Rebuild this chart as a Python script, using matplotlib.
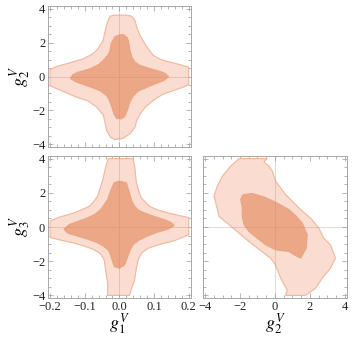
import numpy as np
import matplotlib
matplotlib.use('Agg')
import matplotlib.pyplot as plt
from matplotlib.ticker import MultipleLocator

plt.rcParams['font.family'] = ['Liberation Serif', 'DejaVu Serif']
plt.rcParams['mathtext.fontset'] = 'stix'

# contour outlines: (x, y) pairs
# g1 - g2 panel
g1g2_outer_x = [-0.027, -0.015, 0.02, 0.036, 0.045, 0.05, 0.06, 0.08, 0.098, 0.12, 0.148, 0.175, 0.2,
                0.2, 0.185, 0.157, 0.125, 0.098, 0.075, 0.06, 0.05, 0.045, 0.031, 0.01, -0.013, -0.025,
                -0.037, -0.046, -0.066, -0.09, -0.124, -0.16, -0.2, -0.2, -0.18, -0.153, -0.105, -0.08,
                -0.066, -0.047, -0.039, -0.033]
g1g2_outer_y = [3.55, 3.62, 3.62, 3.55, 3.3, 2.9, 2.4, 1.72, 1.24, 1.0, 0.84, 0.7, 0.55,
                -0.47, -0.62, -0.82, -1.05, -1.41, -1.8, -2.2, -2.6, -2.98, -3.37, -3.65, -3.72, -3.6,
                -3.18, -2.29, -1.8, -1.45, -1.22, -0.9, -0.55, 0.42, 0.6, 0.75, 1.04, 1.3,
                1.53, 2.12, 2.9, 3.3]
g1g2_inner_x = [0.0, 0.012, 0.022, 0.026, 0.03, 0.036, 0.045, 0.06, 0.085, 0.109, 0.13, 0.142, 0.128,
                0.105, 0.08, 0.055, 0.041, 0.03, 0.026, 0.016, 0.005, -0.008, -0.015, -0.022, -0.03,
                -0.037, -0.055, -0.076, -0.1, -0.124, -0.141, -0.135, -0.12, -0.085, -0.06, -0.047,
                -0.032, -0.027, -0.024, -0.013]
g1g2_inner_y = [2.45, 2.47, 2.3, 2.12, 1.6, 1.13, 0.85, 0.65, 0.48, 0.35, 0.2, 0.0, -0.24,
                -0.42, -0.63, -0.85, -1.12, -1.5, -1.8, -2.35, -2.5, -2.47, -2.25, -1.8, -1.35,
                -1.12, -0.85, -0.67, -0.5, -0.33, -0.12, 0.1, 0.25, 0.45, 0.7, 0.94,
                1.3, 1.53, 1.93, 2.35]

# g1 - g3 panel
g1g3_outer_x = [-0.032, 0.039, 0.044, 0.049, 0.056, 0.063, 0.087, 0.11, 0.141, 0.2, 0.2, 0.16, 0.12,
                0.083, 0.065, 0.054, 0.048, 0.044, 0.035, 0.029, -0.034, -0.034, -0.04, -0.044,
                -0.055, -0.073, -0.1, -0.131, -0.2, -0.2, -0.17, -0.131, -0.087, -0.075, -0.063,
                -0.055, -0.048, -0.039]
g1g3_outer_y = [4.0, 4.0, 3.56, 2.59, 2.1, 1.7, 1.21, 1.0, 0.82, 0.55, -0.45, -0.79, -1.0,
                -1.24, -1.5, -1.92, -2.5, -3.1, -3.6, -4.0, -4.0, -3.29, -2.5, -1.92,
                -1.55, -1.33, -1.12, -0.94, -0.62, 0.36, 0.6, 0.82, 1.21, 1.45, 1.8,
                2.3, 2.78, 3.56]
g1g3_inner_x = [0.0, 0.02, 0.029, 0.036, 0.044, 0.055, 0.073, 0.1, 0.131, 0.15, 0.158, 0.141, 0.11,
                0.083, 0.055, 0.039, 0.03, 0.024, 0.015, 0.0, -0.015, -0.024, -0.03, -0.044, -0.065,
                -0.092, -0.15, -0.16, -0.145, -0.12, -0.092, -0.07, -0.054, -0.034, -0.024, -0.015]
g1g3_inner_y = [2.68, 2.59, 2.0, 1.5, 1.21, 0.98, 0.82, 0.62, 0.43, 0.25, 0.08, -0.12, -0.3,
                -0.51, -0.78, -1.04, -1.4, -1.73, -2.22, -2.41, -2.3, -1.73, -1.4, -1.14, -0.9,
                -0.71, -0.35, -0.12, 0.14, 0.33, 0.53, 0.75, 1.02, 1.6, 2.19, 2.59]

# g2 - g3 panel
g2g3_outer_x = [-2.06, -0.44, -0.63, -0.34, -0.15, 0.04, 0.61, 1.37, 2.13, 2.51, 2.8, 3.18, 3.47,
                3.18, 2.7, 2.32, 1.75, 0.61, 0.7, 0.33, 0.04, -0.25, -1.49, -2.63, -3.2, -3.39,
                -3.49, -3.3, -3.01, -2.53]
g2g3_outer_y = [4.0, 4.0, 3.8, 3.56, 3.27, 2.68, 1.9, 1.12, 0.43, -0.06, -0.65, -1.04, -1.82,
                -2.41, -3.0, -3.59, -4.0, -4.0, -3.69, -3.0, -2.22, -1.82, -0.85, 0.14, 0.62, 1.41,
                1.8, 2.39, 2.98, 3.56]
g2g3_inner_x = [-1.87, -1.77, -1.3, -0.6, 0.04, 0.8, 1.2, 1.56, 1.85, 1.79, 1.47, 1.28, 0.8, 0.04,
                -0.53, -1.49, -1.77, -1.87, -1.87, -1.96]
g2g3_inner_y = [1.84, 1.9, 1.96, 1.75, 1.45, 1.02, 0.65, 0.24, -0.45, -1.24, -1.82, -1.73, -1.43, -1.33,
                -1.04, -0.26, 0.14, 0.62, 1.12, 1.61]

LIGHT = '#fadcd0'
LIGHT_EDGE = '#f2b69b'
DARK = '#eca886'
DARK_EDGE = '#eba582'
FRAME = '#a8a8a8'


def style_axes(ax, xlim, xmajor, xminor, show_ylabels=True):
    """Mathematica-like frame with inward ticks"""
    ax.set_xlim(*xlim)
    ax.set_ylim(-4.15, 4.15)
    ax.xaxis.set_major_locator(MultipleLocator(xmajor))
    ax.xaxis.set_minor_locator(MultipleLocator(xminor))
    ax.yaxis.set_major_locator(MultipleLocator(2))
    ax.yaxis.set_minor_locator(MultipleLocator(0.5))
    ax.tick_params(which='both', direction='in', top=True, right=True, color=FRAME,
                   width=0.6, labelsize=9, labelcolor='#222222', pad=2)
    ax.tick_params(which='major', length=3.5)
    ax.tick_params(which='minor', length=2)
    for s in ax.spines.values():
        s.set_color(FRAME)
        s.set_linewidth(0.7)
    if not show_ylabels:
        ax.set_yticklabels([])
    ax.axhline(0, color='#999999', lw=0.6, alpha=0.4, zorder=5)
    ax.axvline(0, color='#999999', lw=0.6, alpha=0.4, zorder=5)


def draw_regions(ax, ox, oy, ix, iy):
    ax.fill(ox, oy, facecolor=LIGHT, edgecolor=LIGHT_EDGE, lw=0.8, zorder=2)
    ax.fill(ix, iy, facecolor=DARK, edgecolor=DARK_EDGE, lw=0.8, zorder=3)


fig = plt.figure(figsize=(3.57, 3.40), dpi=100)

ax1 = fig.add_axes([0.1345, 0.568, 0.40, 0.414])
ax2 = fig.add_axes([0.1345, 0.1235, 0.40, 0.4176])
ax3 = fig.add_axes([0.5686, 0.1235, 0.403, 0.4176])

g1_lim = (-0.206, 0.206)
g2_lim = (-4.12, 4.12)

draw_regions(ax1, g1g2_outer_x, g1g2_outer_y, g1g2_inner_x, g1g2_inner_y)
style_axes(ax1, g1_lim, 0.1, 0.02)
ax1.set_xticklabels([])
ax1.set_ylabel(r'$g_2^V$', fontsize=13, labelpad=0)

draw_regions(ax2, g1g3_outer_x, g1g3_outer_y, g1g3_inner_x, g1g3_inner_y)
style_axes(ax2, g1_lim, 0.1, 0.02)
ax2.xaxis.set_major_formatter(plt.FuncFormatter(lambda v, p: f'{v:.1f}'.replace('-', '\u2212')))
ax2.set_xlabel(r'$g_1^V$', fontsize=13, labelpad=-1)
ax2.set_ylabel(r'$g_3^V$', fontsize=13, labelpad=0)

draw_regions(ax3, g2g3_outer_x, g2g3_outer_y, g2g3_inner_x, g2g3_inner_y)
style_axes(ax3, g2_lim, 2, 0.5, show_ylabels=False)
ax3.set_xlabel(r'$g_2^V$', fontsize=13, labelpad=-1)

fig.savefig('out.png', dpi=100)
